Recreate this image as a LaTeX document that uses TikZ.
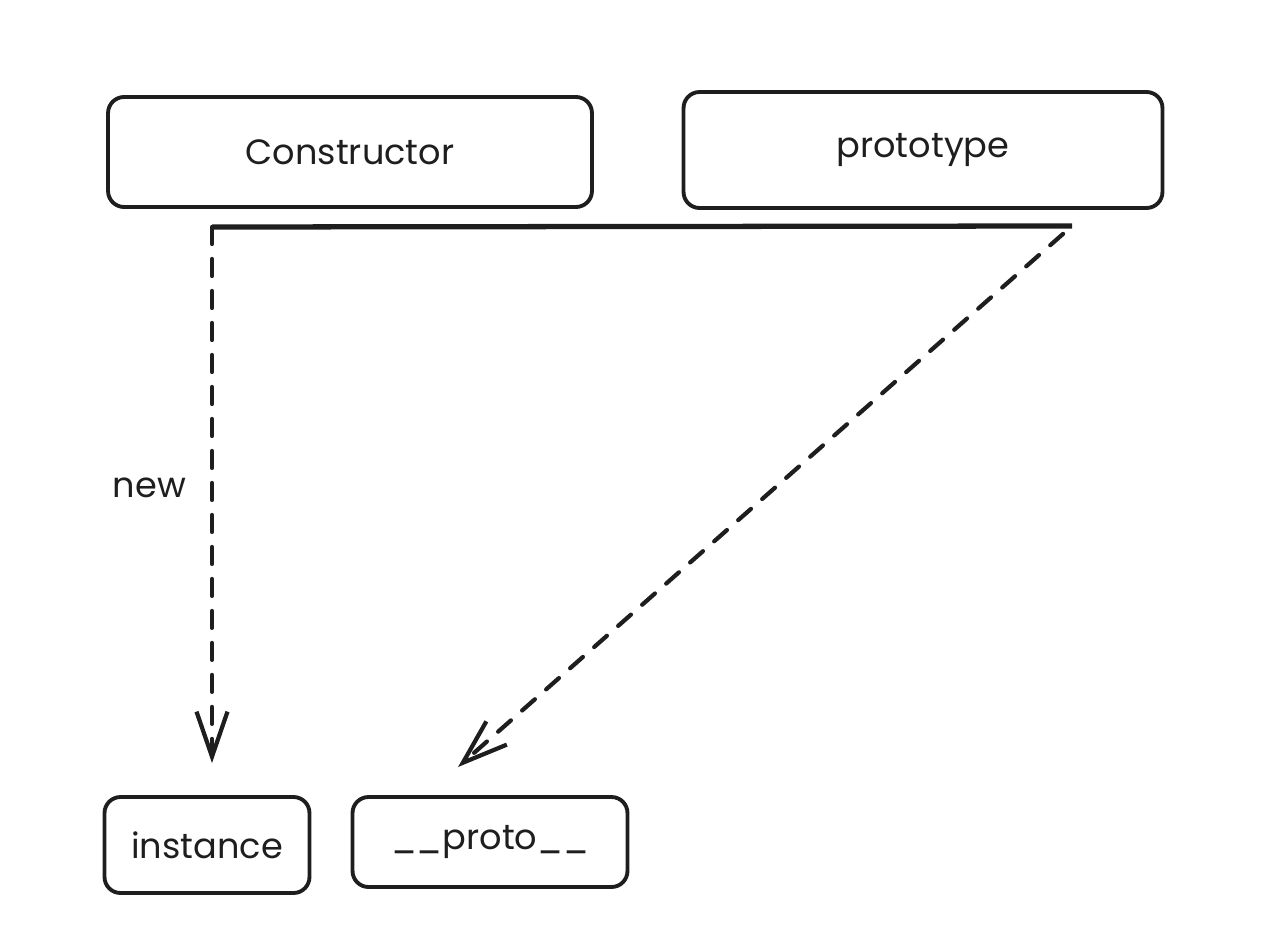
\documentclass[tikz,border=0pt]{standalone}
\usepackage{fontspec}
\setmainfont{Poppins}
\usetikzlibrary{arrows.meta,positioning}
\definecolor{inkcol}{RGB}{30,30,30}

\begin{document}
\begin{tikzpicture}[
    x=0.02cm, y=-0.02cm,
    >={Straight Barb[length=0.9cm,width=0.62cm,line width=2.4pt]},
    objbox/.style={draw=inkcol, line width=2.2pt, rounded corners=0.32cm, inner sep=0pt,
                   font=\fontsize{20}{24}\selectfont, text=inkcol},
    link/.style={->, draw=inkcol, line width=2.4pt, line cap=round,
                 dash pattern=on 0.34cm off 0.3cm},
    bar/.style={draw=inkcol, line width=3pt},
    txtlabel/.style={font=\fontsize{20}{24}\selectfont, text=inkcol},
]
\useasboundingbox (0,0) rectangle (1266,946);

% ============ TOP ROW ============
\node[objbox, minimum width=9.68cm, minimum height=2.2cm] (ctor) at (350,152) {Constructor};
\node[objbox, minimum width=9.58cm, minimum height=2.32cm] (proto) at (923,150) {prototype};

% ============ BOTTOM ROW ============
\node[objbox, minimum width=4.1cm, minimum height=1.92cm] (inst) at (207,845) {instance};
\node[objbox, minimum width=5.5cm, minimum height=1.8cm] (dunder) at (490,842) {\_\_proto\_\_};

% ============ BAR AND LINKS ============
\coordinate (barL) at (212,227);
\coordinate (barR) at (1072,226);
\coordinate (dunderIn) at (458,767);
\draw[bar] (barL) -- (barR);
\draw[link, shorten >=0.64cm] (barL) -- (barL |- inst.north)
  node[pos=0.46, left=0.36cm, txtlabel] (newlbl) {new};
\draw[link, shorten <=0.24cm] (barR) -- (dunderIn);

\end{tikzpicture}
\end{document}
